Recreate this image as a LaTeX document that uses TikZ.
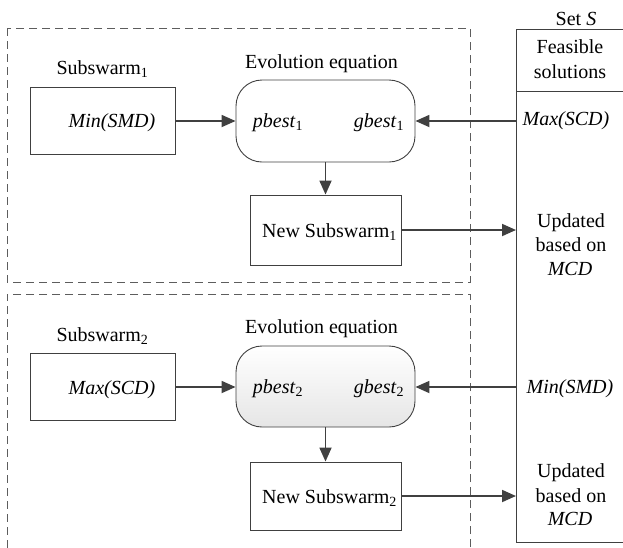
\documentclass[tikz,border=0pt]{standalone}
\usepackage{fontspec}
\setmainfont{Liberation Serif}
\usetikzlibrary{arrows.meta}
\definecolor{ln}{HTML}{404040}
\tikzset{
  txt/.style={inner sep=0pt, anchor=base, font=\fontsize{20}{24}\selectfont, text=black},
  box/.style={draw=ln, line width=0.9pt, inner sep=0pt},
  rbox/.style={draw=ln, line width=0.9pt, inner sep=0pt, rounded corners=26pt},
  dbox/.style={draw=ln!85, line width=0.9pt, dash pattern=on 8pt off 5pt},
  arr/.style={draw=ln, line width=1.8pt, -{Triangle[length=14pt,width=12pt]}}
}
\newcommand{\sbs}[1]{\textsubscript{\upshape #1}}
\begin{document}
\begin{tikzpicture}[x=1pt,y=-1pt]
\useasboundingbox (0,0) rectangle (623,547);
\clip (0,0) rectangle (623,547);
% dashed groups
\draw[dbox] (7,28) rectangle (470,282);
\draw[dbox] (470,560) -- (470,294) -- (7,294) -- (7,560);
% Set S
\node[box, anchor=north west, minimum width=130pt, minimum height=513pt] (setS) at (516,29) {};
\draw[ln, line width=0.9pt] (516,91) -- (630,91);
\node[txt] (setlbl) at (576,25) {Set \textit{S}};
\node[txt] (feas) at (570,53) {Feasible};
\node[txt] (sol) at (570,78) {solutions};
\node[txt] (maxr) at (566,125) {\textit{Max(SCD)}};
\node[txt] (up1) at (571,227) {Updated};
\node[txt] (bo1) at (571,251) {based on};
\node[txt] (mcd1) at (570,275) {\textit{MCD}};
\node[txt] (minr) at (570,393) {\textit{Min(SMD)}};
\node[txt] (up2) at (571,477) {Updated};
\node[txt] (bo2) at (571,502) {based on};
\node[txt] (mcd2) at (570,525) {\textit{MCD}};
\coordinate (s1in) at (516,121);
\coordinate (s1out) at (516,230);
\coordinate (s2in) at (516,387);
\coordinate (s2out) at (516,496);
% group 1
\node[txt] (sw1lbl) at (102.5,74) {Subswarm\sbs{1}};
\node[box, minimum width=145pt, minimum height=67pt] (sw1) at (102.5,120.5) {};
\node[txt] (min1) at (112,127) {\textit{Min(SMD)}};
\node[txt] (ev1) at (321.5,68) {Evolution equation};
\node[rbox, minimum width=179pt, minimum height=82pt] (eq1) at (325.5,121) {};
\node[txt] (pb1) at (278,127) {\textit{pbest}\sbs{1}};
\node[txt] (gb1) at (379,127) {\textit{gbest}\sbs{1}};
\node[box, minimum width=151pt, minimum height=70pt] (ns1) at (325.5,230) {};
\node[txt, anchor=base west] (ns1t) at (262,237) {New Subswarm\sbs{1}};
\draw[arr] (sw1.east |- 0,121) -- (eq1.west |- 0,121);
\draw[arr] (s1in) -- (eq1.east |- s1in);
\draw[arr] (eq1.south) -- (ns1.north);
\draw[arr] (ns1.east |- s1out) -- (s1out);
% group 2
\node[txt] (sw2lbl) at (102.5,341) {Subswarm\sbs{2}};
\node[box, minimum width=145pt, minimum height=67pt] (sw2) at (102.5,386.5) {};
\node[txt] (max2) at (112,394) {\textit{Max(SCD)}};
\node[txt] (ev2) at (321.5,333) {Evolution equation};
\node[rbox, top color=white, bottom color=gray!20, minimum width=179pt, minimum height=81pt] (eq2) at (325.5,386.5) {};
\node[txt] (pb2) at (278,393) {\textit{pbest}\sbs{2}};
\node[txt] (gb2) at (379,393) {\textit{gbest}\sbs{2}};
\node[box, minimum width=151pt, minimum height=68pt] (ns2) at (325.5,496) {};
\node[txt, anchor=base west] (ns2t) at (262,503) {New Subswarm\sbs{2}};
\draw[arr] (sw2.east |- 0,387) -- (eq2.west |- 0,387);
\draw[arr] (s2in) -- (eq2.east |- s2in);
\draw[arr] (eq2.south) -- (ns2.north);
\draw[arr] (ns2.east |- s2out) -- (s2out);
\end{tikzpicture}
\end{document}
